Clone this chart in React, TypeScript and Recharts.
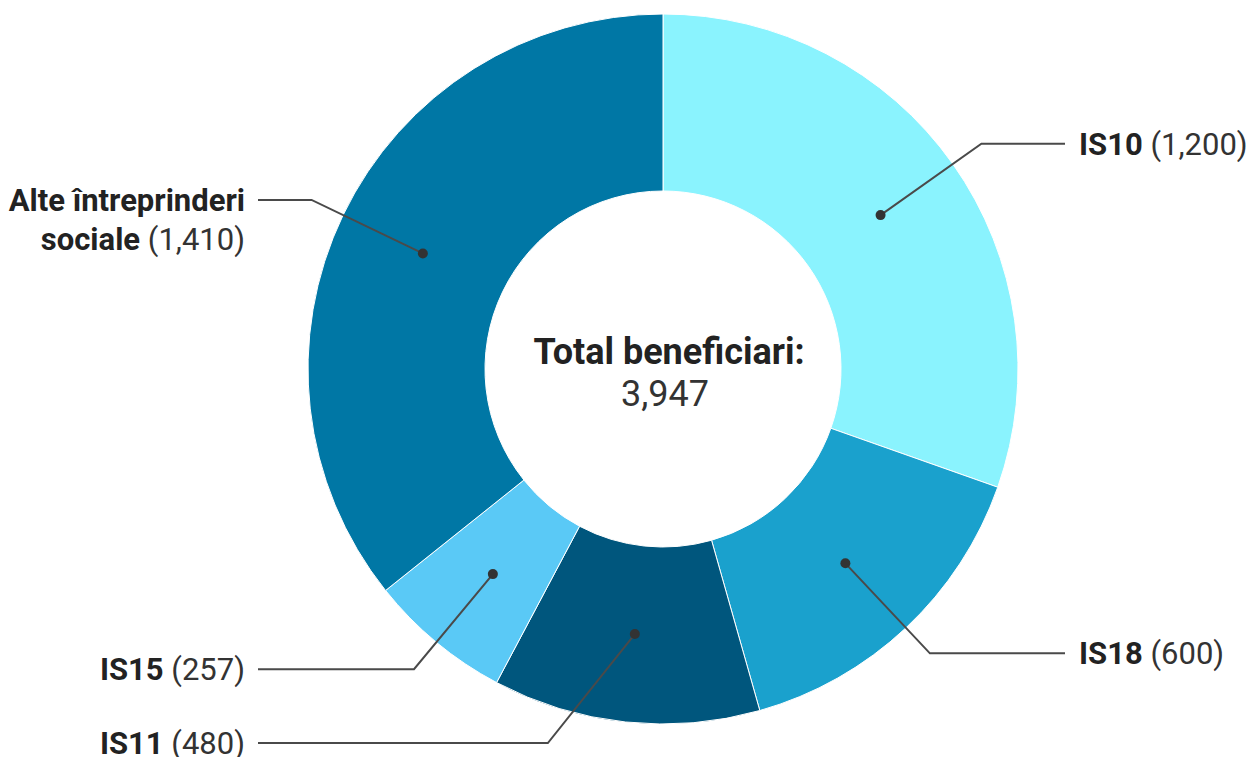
import React from 'react';
import { PieChart, Pie, Cell } from 'recharts';

const names = ['IS10', 'IS18', 'IS11', 'IS15', 'Alte întreprinderi sociale'];
const values = [1200, 600, 480, 257, 1410];
const colors = ['#8af3fe', '#1aa1cd', '#00567d', '#5ac9f6', '#0077a5'];

const data = names.map((name, i) => ({ name, value: values[i] }));
const total = values.reduce((a, b) => a + b, 0);

const RADIAN = Math.PI / 180;
const FONT = 'Roboto, sans-serif';
const fmt = (v: number) => v.toLocaleString('en-US');

const renderLabel = (props: any) => {
  const { cx, cy, midAngle, innerRadius, outerRadius, index, name, value } = props;
  const cos = Math.cos(-midAngle * RADIAN);
  const sin = Math.sin(-midAngle * RADIAN);
  const mid = (innerRadius + outerRadius) / 2;
  const dx = cx + mid * cos;
  const dy = cy + mid * sin;
  let ex = cx + (outerRadius + 35) * cos;
  let ey = cy + (outerRadius + 35) * sin;
  // keep the bottom label inside the frame
  if (ey > cy + 374) {
    ey = cy + 374;
    ex = dx - 87;
  }
  const right = cos >= 0;
  const hx = right ? 1065 : 258;
  const tx = right ? 1079 : 245;
  const anchor = right ? 'start' : 'end';
  const parts = index === 4 ? ['Alte întreprinderi', 'sociale'] : [name];
  return (
    <g>
      <polyline
        points={`${dx},${dy} ${ex},${ey} ${hx},${ey}`}
        fill="none"
        stroke="#4a4a4a"
        strokeWidth={2}
      />
      <circle cx={dx} cy={dy} r={5} fill="#333" />
      <text
        x={tx}
        y={ey}
        textAnchor={anchor}
        dominantBaseline="central"
        fontFamily={FONT}
        fontSize={31}
        fill="#222"
      >
        {parts.length === 1 ? (
          <>
            <tspan fontWeight="bold">{parts[0]}</tspan>
            <tspan fill="#333"> ({fmt(value)})</tspan>
          </>
        ) : (
          <>
            <tspan x={tx} dy={0} fontWeight="bold">{parts[0]}</tspan>
            <tspan x={tx} dy={39} fontWeight="bold">{parts[1]}</tspan>
            <tspan fill="#333"> ({fmt(value)})</tspan>
          </>
        )}
      </text>
    </g>
  );
};

const App: React.FC = () => {
  return (
    <div style={{ position: 'absolute', left: 0, top: 0, background: '#fff' }}>
      <PieChart width={1248} height={757} margin={{ top: 0, right: 0, bottom: 0, left: 0 }}>
        <Pie
          data={data}
          dataKey="value"
          nameKey="name"
          cx={663}
          cy={369}
          innerRadius={178}
          outerRadius={355}
          startAngle={90}
          endAngle={-270}
          stroke="#fff"
          strokeWidth={1}
          label={renderLabel}
          labelLine={false}
          isAnimationActive={false}
        >
          {data.map((entry, index) => (
            <Cell key={`cell-${index}`} fill={colors[index]} />
          ))}
        </Pie>
        <text
          x={669}
          y={352}
          textAnchor="middle"
          dominantBaseline="central"
          fontFamily={FONT}
          fontSize={36}
          fontWeight="bold"
          fill="#222"
        >
          Total beneficiari:
        </text>
        <text
          x={665}
          y={394}
          textAnchor="middle"
          dominantBaseline="central"
          fontFamily={FONT}
          fontSize={36}
          fill="#333"
        >
          {fmt(total)}
        </text>
      </PieChart>
    </div>
  );
};

export default App;
